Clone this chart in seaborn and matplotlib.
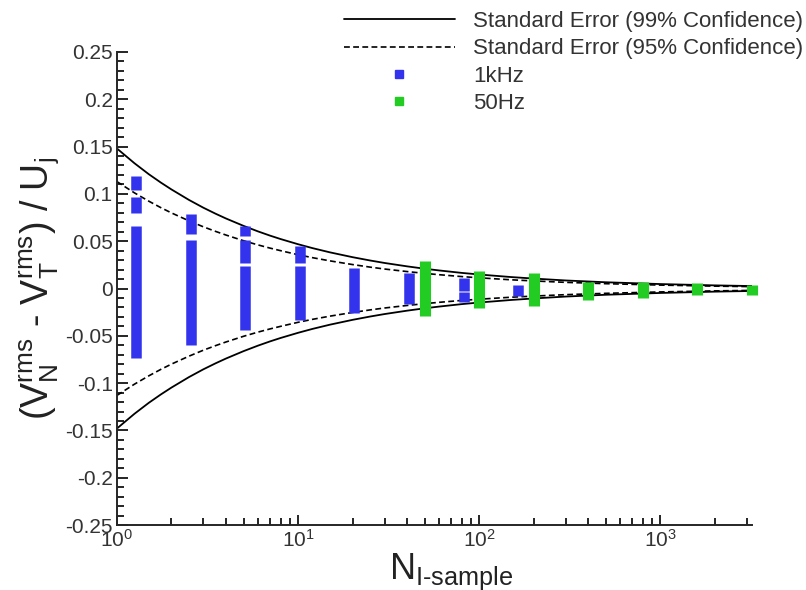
import numpy as np
import pandas as pd
import matplotlib
matplotlib.use("Agg")
import matplotlib.pyplot as plt
import seaborn as sns
from matplotlib.lines import Line2D
from matplotlib.ticker import MultipleLocator, LogLocator

# standard error envelopes
curve_n = [1, 1.25, 1.5, 1.75, 2, 2.5, 3, 3.5, 4, 5, 6, 7, 8, 10, 12, 15,
           20, 25, 30, 40, 50, 60, 80, 100, 150, 200, 300, 500, 1000,
           2000, 3200]
se99 = [0.148, 0.1324, 0.1208, 0.1119, 0.1047, 0.0936, 0.0854, 0.0791,
        0.074, 0.0662, 0.0604, 0.0559, 0.0523, 0.0468, 0.0427, 0.0382,
        0.0331, 0.0296, 0.027, 0.0234, 0.0209, 0.0191, 0.0165, 0.0148,
        0.0121, 0.0105, 0.0085, 0.0066, 0.0047, 0.0033, 0.0026]
se95 = [0.113, 0.1011, 0.0923, 0.0854, 0.0799, 0.0715, 0.0652, 0.0604,
        0.0565, 0.0505, 0.0461, 0.0427, 0.040, 0.0357, 0.0326, 0.0292,
        0.0253, 0.0226, 0.0206, 0.0179, 0.016, 0.0146, 0.0126, 0.0113,
        0.0092, 0.008, 0.0065, 0.0051, 0.0036, 0.0025, 0.002]

# 1kHz segments: sample count, lower, upper
blue_n = [1.28, 1.28, 1.28, 2.56, 2.56, 5.12, 5.12, 5.12, 10.24, 10.24,
          20.48, 40.96, 81.92, 81.92, 163.84]
blue_lo = [0.104, 0.080, -0.073, 0.058, -0.060, 0.055, 0.027, -0.044,
           0.027, -0.033, -0.026, -0.016, -0.003, -0.014, -0.008]
blue_hi = [0.119, 0.097, 0.066, 0.079, 0.051, 0.066, 0.051, 0.024,
           0.045, 0.024, 0.022, 0.016, 0.011, -0.004, 0.004]

# 50Hz segments
green_n = [50, 100, 200, 400, 800, 1600, 3200]
green_lo = [-0.029, -0.021, -0.018, -0.012, -0.010, -0.007, -0.007]
green_hi = [0.029, 0.019, 0.016, 0.007, 0.007, 0.006, 0.004]

blue = "#3333ee"
green = "#22cc22"

sns.set_style("ticks")
plt.rcParams["font.family"] = ["Liberation Sans", "DejaVu Sans"]
plt.rcParams["mathtext.fontset"] = "custom"
plt.rcParams["mathtext.rm"] = "Liberation Sans"
plt.rcParams["mathtext.it"] = "Liberation Sans:italic"

fig = plt.figure(figsize=(8.06, 5.9), dpi=100)
ax = fig.add_axes([0.145, 0.110, 0.788, 0.802])

curves = pd.DataFrame({"n": curve_n, "se99": se99, "se95": se95})
for sign in (1, -1):
    sns.lineplot(x=curves["n"], y=sign * curves["se99"], ax=ax, color="k",
                 lw=1.3, estimator=None, sort=True)
    sns.lineplot(x=curves["n"], y=sign * curves["se95"], ax=ax, color="k",
                 lw=1.2, estimator=None, sort=True,
                 linestyle=(0, (3.5, 2)))

ax.vlines(blue_n, blue_lo, blue_hi, color=blue, lw=7.6, zorder=3)
ax.vlines(green_n, green_lo, green_hi, color=green, lw=8.0, zorder=4,
          clip_on=False)

ax.set_xscale("log")
ax.set_xlim(1, 3200)
ax.set_ylim(-0.25, 0.25)
ax.yaxis.set_minor_locator(MultipleLocator(0.01))
ax.xaxis.set_major_locator(LogLocator(base=10))
ax.set_yticks(np.arange(-0.25, 0.251, 0.05))
ax.set_yticklabels(["-0.25", "-0.2", "-0.15", "-0.1", "-0.05", "0",
                    "0.05", "0.1", "0.15", "0.2", "0.25"])

ax.tick_params(axis="both", which="both", direction="in", colors="k",
               labelcolor="#333333", labelsize=15, width=1.2)
ax.tick_params(axis="y", which="major", length=8, pad=3)
ax.tick_params(axis="y", which="minor", length=5)
ax.tick_params(axis="x", which="major", length=7, pad=3)
ax.tick_params(axis="x", which="minor", length=5)

sns.despine(ax=ax)
for s in ("left", "bottom"):
    ax.spines[s].set_linewidth(1.4)

ax.set_xlabel(r"$\mathrm{N}_{\mathrm{I}\text{-}\mathrm{sample}}$",
              fontsize=26, labelpad=0, color="#222222", x=0.526)
ax.set_ylabel(r"$(\mathrm{V}^{\mathrm{rms}}_{\mathrm{N}}\ \text{-}\ "
              r"\mathrm{V}^{\mathrm{rms}}_{\mathrm{T}})\ /\ \mathrm{U}_{\mathrm{j}}$",
              fontsize=27, labelpad=2, color="#222222")

handles = [
    Line2D([], [], color="k", lw=1.3),
    Line2D([], [], color="k", lw=1.2, linestyle=(0, (3.5, 2))),
    Line2D([], [], color=blue, marker="s", ms=6, lw=0),
    Line2D([], [], color=green, marker="s", ms=6, lw=0),
]
labels = ["Standard Error (99% Confidence)", "Standard Error (95% Confidence)",
          "1kHz", "50Hz"]
fig.legend(handles, labels, loc="upper right", bbox_to_anchor=(1.01, 1.0),
           frameon=False, fontsize=16, handlelength=5.0, handletextpad=0.8,
           labelspacing=0.28, borderpad=0.1, borderaxespad=0.4,
           labelcolor="#333333")

fig.savefig("out.png", dpi=100)
